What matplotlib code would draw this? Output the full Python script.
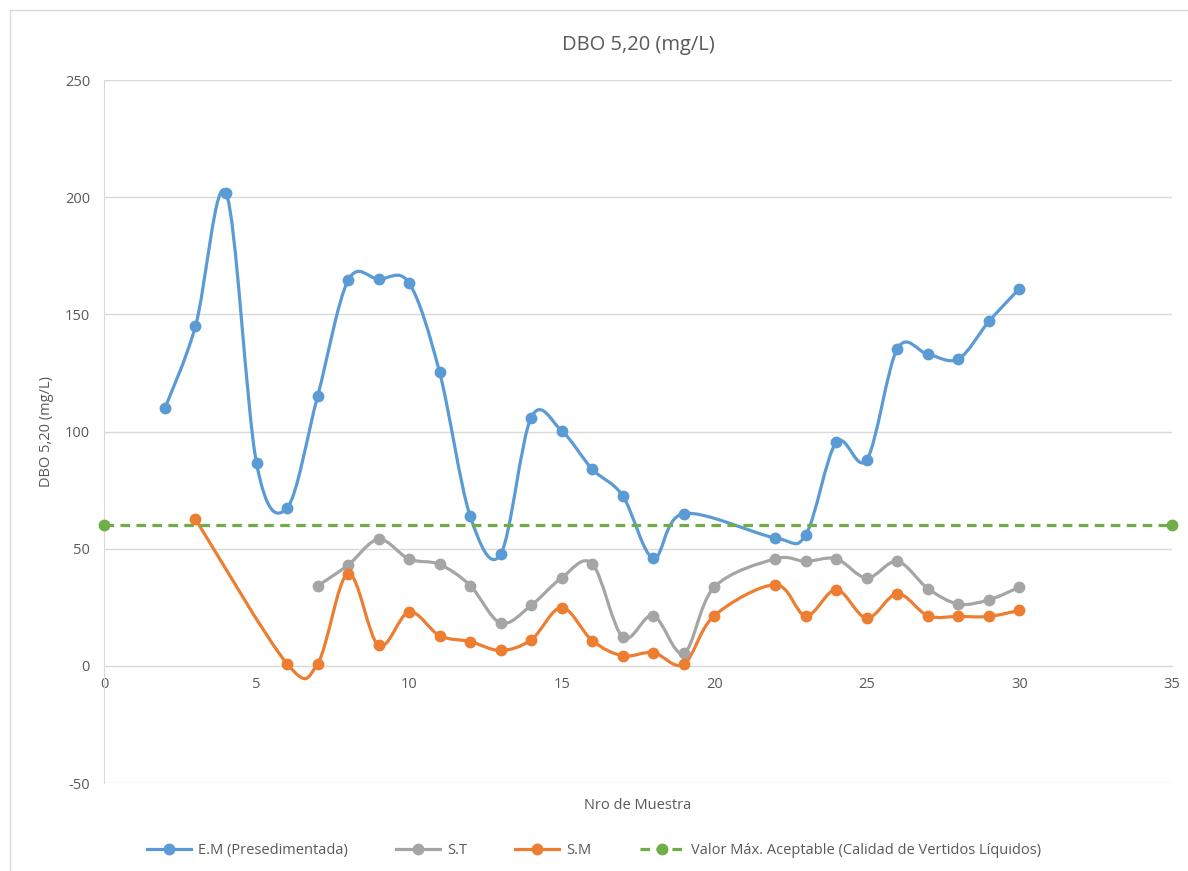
import numpy as np
import matplotlib
matplotlib.use("Agg")
import matplotlib.pyplot as plt
from matplotlib.path import Path
from matplotlib.patches import PathPatch, Rectangle
from matplotlib.lines import Line2D

plt.rcParams['font.family'] = ['Open Sans', 'DejaVu Sans']
plt.rcParams['axes.unicode_minus'] = False

# E.M (Presedimentada)
em_x = [2, 3, 4, 5, 6, 7, 8, 9, 10, 11, 12, 13, 14, 15, 16, 17, 18, 19,
        22, 23, 24, 25, 26, 27, 28, 29, 30]
em_y = [110, 145, 202, 86.5, 67.4, 115, 164.5, 165, 163.4, 125.3, 64, 47.6, 106,
        100.3, 84, 72.6, 46, 65, 54.6, 56, 95.4, 88, 135.3, 133, 131, 147, 161]

# S.T
st_x = [7, 8, 9, 10, 11, 12, 13, 14, 15, 16, 17, 18, 19, 20,
        22, 23, 24, 25, 26, 27, 28, 29, 30]
st_y = [34.1, 43, 54, 45.6, 43.3, 34.3, 18.3, 25.8, 37.6, 43.6, 12.3, 21.5, 5.4,
        33.6, 45.7, 44.6, 45.7, 37.5, 44.6, 33, 26.4, 28.2, 33.6]

# S.M
sm_x = [3, 6, 7, 8, 9, 10, 11, 12, 13, 14, 15, 16, 17, 18, 19, 20,
        22, 23, 24, 25, 26, 27, 28, 29, 30]
sm_y = [62.6, 0.9, 0.9, 39.4, 8.7, 23, 12.9, 10.4, 6.6, 11.1, 24.9, 10.8, 4.3,
        5.7, 0.7, 21.4, 34.6, 21.4, 32.5, 20.4, 30.8, 21.4, 21.1, 21.1, 23.7]

# Valor Max. Aceptable
lim_x = [0, 35]
lim_y = [60, 60]

c_blue = '#5B9BD5'
c_gray = '#A5A5A5'
c_orange = '#ED7D31'
c_green = '#70AD47'


def smooth_path(xs, ys):
    # Excel-like smoothed line: cubic bezier segments, catmull-rom control points
    p = np.column_stack([xs, ys]).astype(float)
    n = len(p)
    verts = [p[0]]
    codes = [Path.MOVETO]
    for i in range(n - 1):
        p0 = p[i - 1] if i > 0 else p[i]
        p1 = p[i]
        p2 = p[i + 1]
        p3 = p[i + 2] if i + 2 < n else p[i + 1]
        c1 = p1 + (p2 - p0) / 6.0
        c2 = p2 - (p3 - p1) / 6.0
        verts += [c1, c2, p2]
        codes += [Path.CURVE4] * 3
    return Path(verts, codes)


fig = plt.figure(figsize=(11.88, 8.71), dpi=100)
ax = fig.add_axes([0.0875, 0.101, 0.899, 0.807])

for xs, ys, col in [(em_x, em_y, c_blue), (st_x, st_y, c_gray), (sm_x, sm_y, c_orange)]:
    ax.add_patch(PathPatch(smooth_path(xs, ys), facecolor='none', edgecolor=col,
                           lw=2.3, capstyle='round', joinstyle='round', zorder=3))
    ax.plot(xs, ys, 'o', color=col, ms=7.5, zorder=4)

ax.plot(lim_x, lim_y, '--', color=c_green, lw=2.3, dashes=(3, 2),
        marker='o', ms=7.5, zorder=3, clip_on=False)

ax.set_xlim(0, 35)
ax.set_ylim(-50, 250)
ax.set_xticks(np.arange(0, 36, 5))
ax.set_yticks(np.arange(-50, 251, 50))
ax.yaxis.grid(True, color='#D9D9D9', lw=1)
ax.set_axisbelow(True)

for s in ['top', 'right']:
    ax.spines[s].set_visible(False)
ax.spines['left'].set_color('#D9D9D9')
ax.spines['bottom'].set_position(('data', 0))
ax.spines['bottom'].set_color('#D9D9D9')
ax.tick_params(length=0, colors='#595959', labelsize=10.5)
ax.tick_params(axis='x', pad=8)
ax.tick_params(axis='y', pad=10)

ax.set_title('DBO 5,20 (mg/L)', fontsize=14.5, color='#595959', pad=22)
ax.set_xlabel('Nro de Muestra', fontsize=10.5, color='#595959')
ax.xaxis.set_label_coords(0.5, -0.022)
ax.set_ylabel('DBO 5,20 (mg/L)', fontsize=10.5, color='#595959', labelpad=8)

handles = [
    Line2D([], [], color=c_blue, lw=2.3, marker='o', ms=7.5, markevery=[1]),
    Line2D([], [], color=c_gray, lw=2.3, marker='o', ms=7.5, markevery=[1]),
    Line2D([], [], color=c_orange, lw=2.3, marker='o', ms=7.5, markevery=[1]),
    Line2D([], [], color=c_green, lw=2.3, ls='--', dashes=(3, 2), marker='o', ms=7.5, markevery=[1]),
]
labels = ['E.M (Presedimentada)', 'S.T', 'S.M',
          'Valor Máx. Aceptable (Calidad de Vertidos Líquidos)']
leg = fig.legend(handles, labels, loc='center', bbox_to_anchor=(0.5, 0.023), ncol=4,
                 frameon=False, fontsize=10.5, handlelength=3, columnspacing=3.3,
                 handletextpad=0.5)
for t in leg.get_texts():
    t.set_color('#595959')

fig.patches.append(Rectangle((10 / 1188, -0.01), 1.02, 1 - 10 / 871 + 0.01,
                             transform=fig.transFigure, fill=False,
                             edgecolor='#D9D9D9', lw=1))

fig.savefig('out.png', dpi=100)
